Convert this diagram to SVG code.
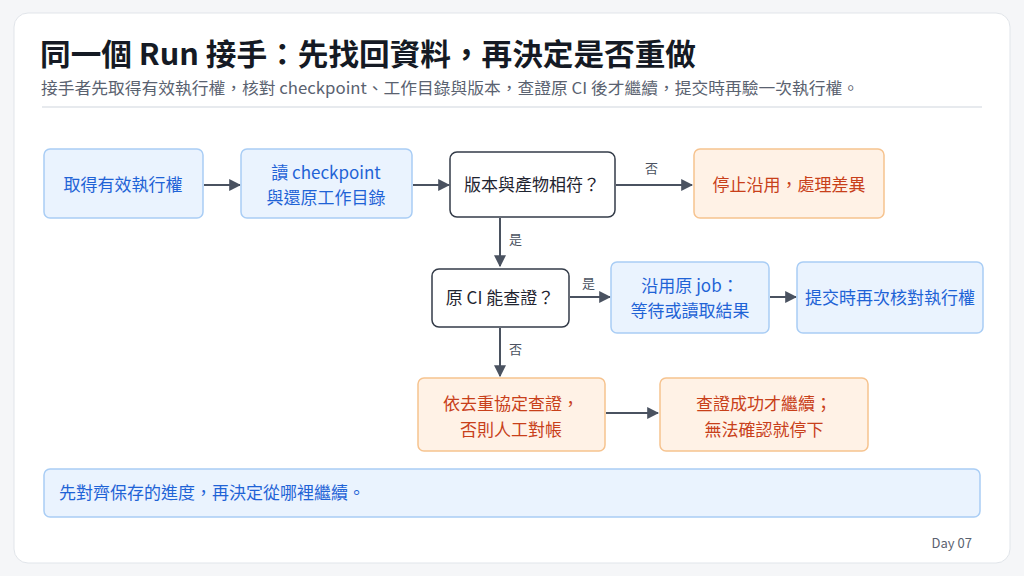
<svg xmlns="http://www.w3.org/2000/svg" width="1024" height="576" viewBox="0 0 1024 576">
<style>
text{font-family:"Noto Sans CJK TC","Noto Sans",sans-serif}
.b rect{fill:#eaf3fe;stroke:#a9cdf5;stroke-width:1.5}
.b text{fill:#1f63d6;font-size:17px;text-anchor:middle}
.o rect{fill:#fff2e6;stroke:#f6c38f;stroke-width:1.5}
.o text{fill:#c8401a;font-size:17px;text-anchor:middle}
.d rect{fill:#fff;stroke:#333b48;stroke-width:1.5}
.d text{fill:#1f2430;font-size:17px;text-anchor:middle}
.c path{stroke:#4a5260;stroke-width:2;fill:none;marker-end:url(#a)}
.l{fill:#4a5260;font-size:13px}
</style>
<defs><marker id="a" viewBox="0 0 10 10" refX="9" refY="5" markerWidth="6" markerHeight="6" orient="auto"><path d="M0 0L10 5L0 10z" fill="#4a5260"/></marker></defs>
<rect width="1024" height="576" fill="#f5f6f8"/>
<rect x="14" y="13" width="996" height="550" rx="14" fill="#fff" stroke="#e1e5ea"/>
<text x="40" y="65" font-size="30" font-weight="bold" fill="#151a24" textLength="656" lengthAdjust="spacingAndGlyphs">同一個 Run 接手：先找回資料，再決定是否重做</text>
<text x="41" y="94" font-size="16" fill="#5a6270" textLength="818" lengthAdjust="spacingAndGlyphs">接手者先取得有效執行權，核對 checkpoint、工作目錄與版本，查證原 CI 後才繼續，提交時再驗一次執行權。</text>
<line x1="42" y1="107" x2="982" y2="107" stroke="#dfe3e8" stroke-width="1.5"/>
<g class="c">
<path d="M204 185H240"/><path d="M413 185H449"/><path d="M616 185H692"/>
<path d="M500 218V266"/><path d="M570 297H610"/><path d="M770 297H796"/>
<path d="M500 328V376"/><path d="M606 413H658"/>
</g>
<text class="l" x="645" y="173">否</text><text class="l" x="509" y="244">是</text>
<text class="l" x="582" y="288">是</text><text class="l" x="509" y="354">否</text>
<g id="n1" class="b"><rect x="44" y="149" width="159" height="69" rx="6"/><text x="123" y="191">取得有效執行權</text></g>
<g id="n2" class="b"><rect x="241" y="149" width="171" height="69" rx="6"/><text x="326" y="179">讀 checkpoint</text><text x="326" y="204">與還原工作目錄</text></g>
<g id="n3" class="d"><rect x="450" y="152" width="165" height="65" rx="7"/><text x="532" y="191">版本與產物相符？</text></g>
<g id="n4" class="o"><rect x="694" y="149" width="190" height="69" rx="6"/><text x="789" y="191">停止沿用，處理差異</text></g>
<g id="n5" class="d"><rect x="432" y="269" width="137" height="58" rx="7"/><text x="500" y="304">原 CI 能查證？</text></g>
<g id="n6" class="b"><rect x="611" y="262" width="158" height="71" rx="6"/><text x="690" y="292">沿用原 job：</text><text x="690" y="317">等待或讀取結果</text></g>
<g id="n7" class="b"><rect x="797" y="262" width="186" height="71" rx="6"/><text x="890" y="304">提交時再次核對執行權</text></g>
<g id="n8" class="o"><rect x="418" y="378" width="187" height="73" rx="6"/><text x="511" y="410">依去重協定查證，</text><text x="511" y="436">否則人工對帳</text></g>
<g id="n9" class="o"><rect x="660" y="378" width="208" height="73" rx="6"/><text x="764" y="410">查證成功才繼續；</text><text x="764" y="436">無法確認就停下</text></g>
<g id="note" class="b"><rect x="44" y="469" width="936" height="48" rx="6"/><text x="59" y="499" style="text-anchor:start">先對齊保存的進度，再決定從哪裡繼續。</text></g>
<text x="972" y="548" font-size="13" fill="#5a6270" text-anchor="end">Day 07</text>
</svg>
